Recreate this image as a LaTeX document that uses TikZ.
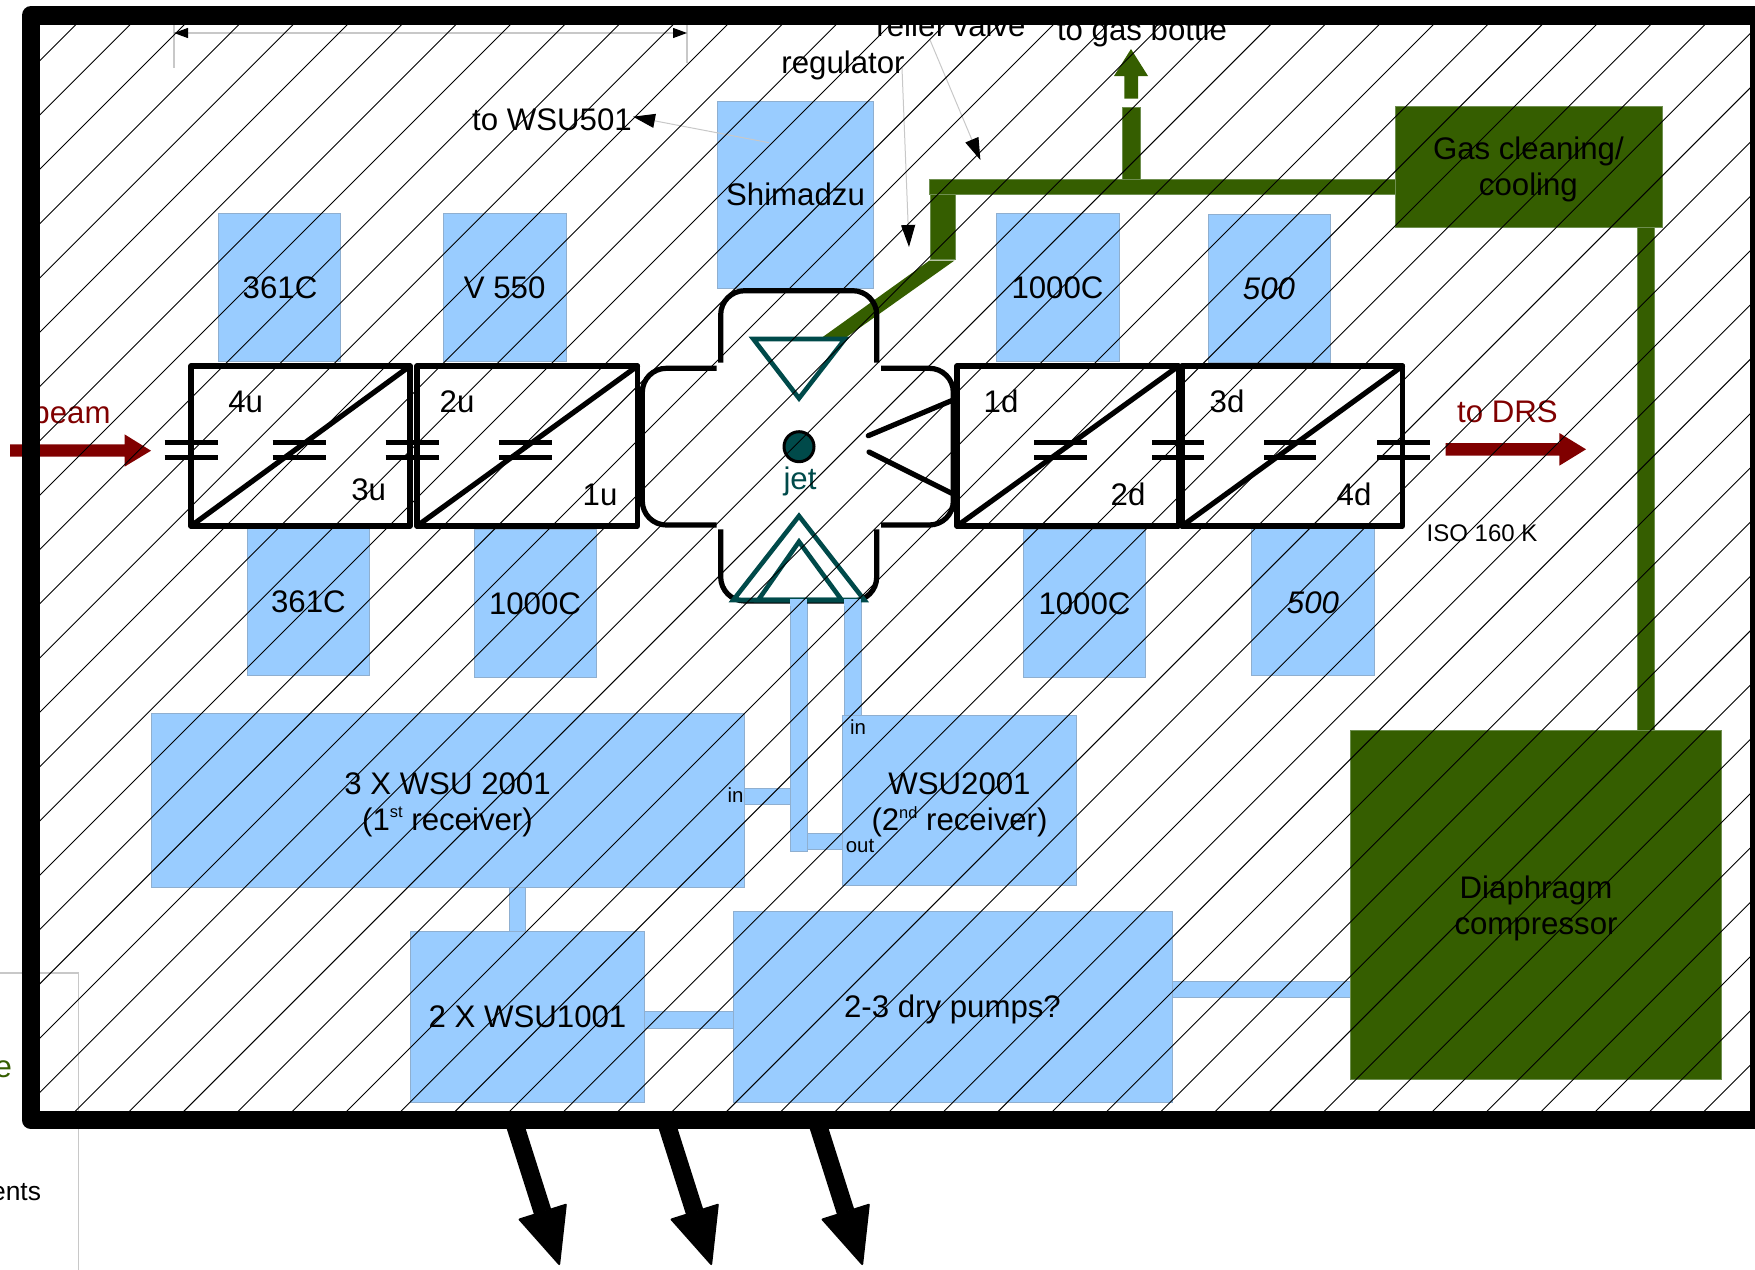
\documentclass[tikz,border=0pt]{standalone}
\usepackage{fontspec}
\setmainfont{Liberation Sans}
\usetikzlibrary{arrows.meta}
\definecolor{bl}{HTML}{99CCFF}
\definecolor{ble}{HTML}{8FAFD0}
\definecolor{gr}{HTML}{355E00}
\definecolor{gre}{HTML}{6F8F50}
\definecolor{rd}{HTML}{800000}
\definecolor{tl}{HTML}{004A4A}
\definecolor{lg}{HTML}{C8C8C8}
\newcommand{\supr}[1]{\raisebox{6.3pt}{\fontsize{8.2}{9}\selectfont #1}}
\tikzset{
  x=0.5pt,y=-0.5pt,
  bigtext/.style={font=\fontsize{15.6}{18}\selectfont,text=black,inner sep=0pt,outer sep=0pt,align=center},
  lab/.style={bigtext,anchor=base},
  tiny/.style={font=\fontsize{10.2}{12}\selectfont,text=black,inner sep=0pt,anchor=base},
  iso/.style={font=\fontsize{12}{14}\selectfont,text=black,inner sep=0pt,anchor=base},
  blue box/.style={fill=bl,draw=ble,line width=0.5pt},
  green box/.style={fill=gr,draw=gre,line width=0.4pt},
  rf/.style={line width=2.6pt,draw=black,line join=round,line cap=round},
  capline/.style={line width=2.4pt,draw=black},
  cham/.style={line width=2.6pt,draw=black,rounded corners=12pt},
  tri/.style={line width=2.3pt,draw=tl,line join=miter},
  hatch/.style={line width=0.45pt,draw=black},
  callout/.style={line width=0.5pt,draw=lg,-{Triangle[length=11pt,width=7pt,color=black,fill=black]}},
}
\begin{document}
\begin{tikzpicture}
\useasboundingbox (0,0) rectangle (1755,1269);
\clip (0,0) rectangle (1755,1269);
% stray outline at lower left
\draw[lg,line width=0.6pt] (-20,973) -- (78.6,973) -- (78.6,1290);
\node[lab,text=bl,anchor=base east] (bluefrag) at (1.5,1015) {e};
\node[lab,text=gr,anchor=base east] (greenfrag) at (12,1077) {e};
\node[lab,anchor=base east,font=\fontsize{13.2}{15}\selectfont] (entsfrag) at (41,1200) {ents};
% pipes (blue)
\path[blue box] (790.3,599.3) rectangle (807,851.7);
\path[blue box] (844.3,599.3) rectangle (861,716);
\path[blue box] (744,788) rectangle (790.3,804.7);
\path[blue box] (807,833) rectangle (843,849.7);
\path[blue box] (509.8,887) rectangle (525.8,932);
\path[blue box] (644.7,1011) rectangle (733.6,1028.3);
\path[blue box] (1172,981.6) rectangle (1350,997);
% blue boxes
\path[blue box] (218.3,213) rectangle (340.6,361.7);
\path[blue box] (443,213) rectangle (566,361.7);
\path[blue box] (717.8,101) rectangle (873,288);
\path[blue box] (996,213) rectangle (1119,361.5);
\path[blue box] (1208,214.5) rectangle (1330,362.7);
\path[blue box] (247.3,528) rectangle (369.4,675.7);
\path[blue box] (474,529) rectangle (596.7,677.7);
\path[blue box] (1023,529) rectangle (1145.6,677.7);
\path[blue box] (1251.5,528) rectangle (1374.5,675.7);
\path[blue box] (151,713.3) rectangle (744.3,887.3);
\path[blue box] (842.3,715) rectangle (1076.7,885.3);
\path[blue box] (410.4,931.3) rectangle (644.7,1102.3);
\path[blue box] (733.6,911.3) rectangle (1172,1102.3);
% green
\path[green box] (1395,106) rectangle (1662,227);
\path[green box] (1350,730) rectangle (1721.7,1079);
\path[green box] (929,179.5) rectangle (1395,194);
\path[green box] (1122.7,107) rectangle (1140,179.5);
\path[green box] (930,194) rectangle (955,259.5);
\fill[gr] (929.5,260.5) -- (954.5,260.5) -- (846.7,337) -- (822.7,337) -- cycle;
\path[green box] (1637.3,227) rectangle (1654,730);
\fill[gr] (1124.4,98.7) -- (1124.4,76) -- (1114,76) -- (1131,49) -- (1148,76) -- (1138,76) -- (1138,98.7) -- cycle;
% red arrows
\fill[rd] (10.2,444.3) -- (124.5,444.3) -- (124.5,434.3) -- (151,450.7) -- (124.5,466.7) -- (124.5,456.7) -- (10.2,456.7) -- cycle;
\fill[rd] (1445.7,443) -- (1559.3,443) -- (1559.3,433) -- (1586,449.3) -- (1559.3,465.7) -- (1559.3,455.7) -- (1445.7,455.7) -- cycle;
% chamber
\draw[cham] (720.7,362.7) -- (720.7,290.7) -- (876.7,290.7) -- (876.7,362.7);
\draw[cham] (716.7,368.3) -- (642.3,368.3) -- (642.3,525) -- (716.7,525);
\draw[cham] (881,368.3) -- (953.3,368.3) -- (953.3,525) -- (881,525);
\draw[cham] (720.7,529.3) -- (720.7,601) -- (876.7,601) -- (876.7,529.3);
\draw[rf] (868.3,435.7) -- (950.7,401);
\draw[rf] (869,452) -- (951.7,493.3);
% triangles
\draw[tri] (753.3,339) -- (845,339) -- (799,398.3) -- cycle;
\draw[tri] (799,516) -- (733.3,600) -- (864.3,600) -- cycle;
\draw[tri] (799,541.7) -- (758.3,600) -- (841.7,600) -- cycle;
\draw[fill=tl,draw=black,line width=1.5pt] (799,446.7) circle (15);
% pipes over triangles
\fill[bl] (790.3,599.3) rectangle (807,606);
\fill[bl] (844.3,599.3) rectangle (861,606);
% rf boxes
\draw[rf] (191,366) rectangle (410,526);
\draw[rf] (191,526) -- (410,366);
\draw[rf] (417,366) rectangle (637.5,526);
\draw[rf] (417,526) -- (637.5,366);
\draw[rf] (957,366) rectangle (1178.6,526);
\draw[rf] (957,526) -- (1178.6,366);
\draw[rf] (1182,366) rectangle (1402.5,526);
\draw[rf] (1182,526) -- (1402.5,366);
% capacitors
\foreach \a/\b in {164.5/218,272.6/326,385.7/439,498.8/552,1034/1087,1152/1204,1264/1316,1377/1430}{
  \draw[capline] (\a,442.3) -- (\b,442.3);
  \draw[capline] (\a,457.3) -- (\b,457.3);
}
% labels
\node[lab] (t1) at (280,298) {361C};
\node[lab] (t2) at (504.7,298) {V 550};
\node[lab] (t3) at (795.5,205.3) {Shimadzu};
\node[lab] (t4) at (1057.5,298.3) {1000C};
\node[lab,font=\fontsize{15.6}{18}\selectfont\itshape] (t5) at (1269,299.3) {500};
\node[lab] (t6) at (308.4,612.3) {361C};
\node[lab] (t7) at (535,614.3) {1000C};
\node[lab] (t8) at (1084.5,614.3) {1000C};
\node[lab,font=\fontsize{15.6}{18}\selectfont\itshape] (t9) at (1313,613.2) {500};
\node[bigtext] (gasclean) at (1528.4,169.7) {Gas cleaning/\\cooling};
\node[bigtext] (w1) at (447.5,804.5) {3 X WSU 2001\\(1\supr{st} receiver)};
\node[bigtext] (w2) at (959.5,805) {WSU2001\\(2\supr{nd} receiver)};
\node[bigtext] (comp) at (1536,908) {Diaphragm\\compressor};
\node[lab] (w3) at (527.5,1027.3) {2 X WSU1001};
\node[lab] (pumps) at (952.5,1017.3) {2-3 dry pumps?};
\node[lab] (l4u) at (245.7,412.5) {4u};
\node[lab] (l3u) at (368.6,500.5) {3u};
\node[lab] (l2u) at (457,412.5) {2u};
\node[lab] (l1u) at (600,505.7) {1u};
\node[lab] (l1d) at (1001,412) {1d};
\node[lab] (l2d) at (1128,505.5) {2d};
\node[lab] (l3d) at (1227,412) {3d};
\node[lab] (l4d) at (1354,505.2) {4d};
\node[lab,text=tl] (jet) at (800,489) {jet};
\node[lab,text=rd] (beam) at (71.5,423.5) {beam};
\node[lab,text=rd] (drs) at (1507.5,422.5) {to DRS};
\node[iso] (iso) at (1482,541) {ISO 160 K};
\node[tiny] (in2) at (858,734) {in};
\node[tiny] (in1) at (735.5,802.7) {in};
\node[tiny] (out) at (860,852) {out};
\node[lab] (wsu501) at (552,130.7) {to WSU501};
\node[lab] (reg) at (843,73) {regulator};
\node[lab] (relief) at (951,36) {relief valve};
\node[lab] (bottle) at (1142,40) {to gas bottle};
% dimension
\draw[lg,line width=0.6pt] (174,25) -- (174,68);
\draw[lg,line width=0.6pt] (687,25) -- (687,63);
\coordinate (dl) at (174,33);
\coordinate (dr) at (687,33);
\draw[lg,line width=0.6pt,{Triangle[length=7pt,width=5pt,color=black,fill=black]}-{Triangle[length=7pt,width=5pt,color=black,fill=black]}] (dl) -- (dr);
% callouts
\coordinate (ca) at (769,142.7);
\coordinate (cat) at (633,116.7);
\draw[callout] (ca) -- (cat);
\coordinate (cb) at (902,68);
\coordinate (cbt) at (909,247);
\draw[callout] (cb) -- (cbt);
\coordinate (cc) at (930,40);
\coordinate (cct) at (980.4,160);
\draw[callout] (cc) -- (cct);
% hatching
\begin{scope}
\clip (40,25) rectangle (1750,1111);
\foreach \k in {-15,...,36}{
  \pgfmathsetmacro{\s}{915+54.3*\k}
  \draw[hatch] (\s,0) -- (0,\s);
}
\end{scope}
% frame
\draw[line width=9.4pt,draw=black,line join=round] (31,15.5) rectangle (1759.5,1120);
% outflow arrows
\foreach \i/\dx in {1/0,2/152,3/303}{
  \coordinate (ps\i) at (515+\dx,1125);
  \coordinate (pe\i) at (559.5+\dx,1265);
  \draw[line width=9pt,-{Triangle[length=29pt,width=25.5pt,round,line width=1pt,color=black,fill=black]}] (ps\i) -- (pe\i);
}
\end{tikzpicture}
\end{document}
